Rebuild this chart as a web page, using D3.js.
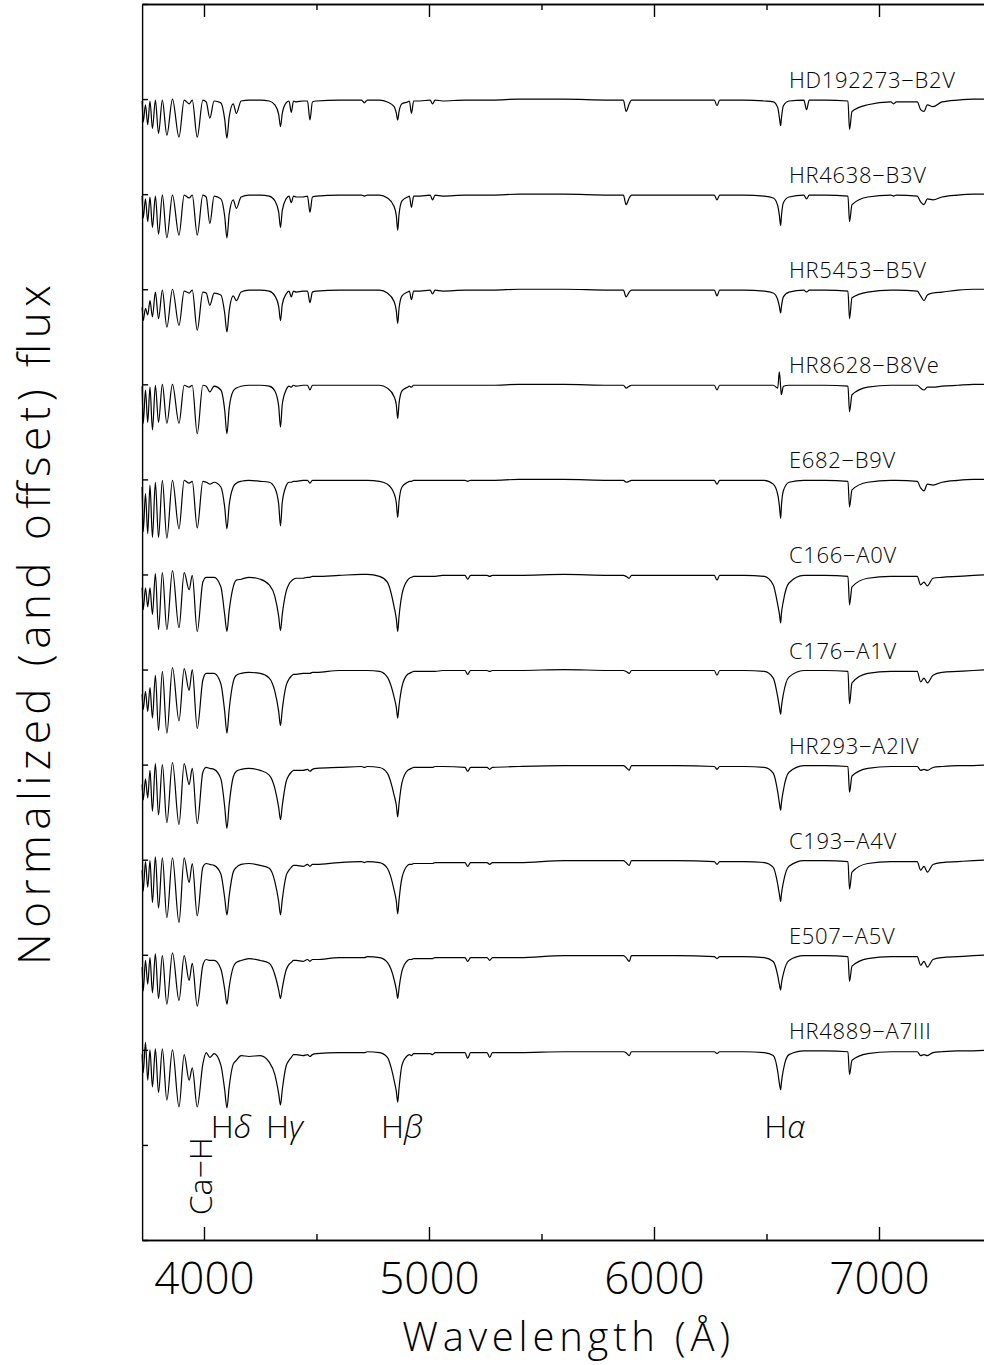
<!DOCTYPE html>
<html>
<head>
<meta charset="utf-8">
<script src="https://cdn.jsdelivr.net/npm/d3@7"></script>
<style>
  body { margin: 0; background: #fff; }
  svg { display: block; }
  text { font-family: "Open Sans", "DejaVu Sans", sans-serif; font-weight: 300; fill: #000; }
</style>
</head>
<body>
<svg id="chart" width="984" height="1365"></svg>
<script>
// wavelength knots (Angstrom) shared by all spectra
const wave = [3725, 3730, 3740, 3750, 3760, 3771, 3784, 3798, 3815, 3835, 3860, 3889, 3912, 3934, 3948, 3970, 3995,
  4010, 4026, 4045, 4075, 4092, 4102, 4112, 4130, 4144, 4165, 4200, 4250,
  4290, 4315, 4332, 4340, 4348, 4365, 4378, 4388, 4398, 4410, 4440, 4460, 4471, 4482, 4500, 4600, 4700, 4713, 4726, 4780,
  4815, 4845, 4855, 4861, 4867, 4880, 4905, 4913, 4922, 4932, 4960, 5005, 5016, 5027, 5060, 5160, 5172, 5185, 5258, 5270, 5282,
  5400, 5600, 5800, 5864, 5876, 5890, 5900, 6100, 6268, 6280, 6292, 6400, 6490,
  6530, 6550, 6557, 6563, 6566, 6575, 6600, 6666, 6678, 6690, 6760, 6862, 6869, 6880, 6950, 7053, 7065, 7077,
  7170, 7185, 7200, 7215, 7240, 7280, 7350, 7420, 7500];

// normalized flux, one array per star
const fluxHD192273 = [.98,.76,.94,.73,.98,.69,.99,.64,.99,.62,1,.60,.99,.95,.99,.60,.99,
  .97,.80,.98,.96,.79,.59,.81,.95,.85,.98,.99,.99,
  .98,.94,.84,.71,.85,.96,.98,.86,.98,.97,.98,.98,.78,.97,.98,.99,.99,.96,.99,.99,
  .97,.92,.85,.78,.87,.95,.97,.98,.85,.98,.98,.99,.95,.99,.98,.99,.99,.99,.99,.99,.99,
  1,1,.99,.99,.87,.95,.99,.99,.99,.93,.99,.99,.98,
  .97,.91,.81,.72,.79,.93,.98,.99,.89,.99,.99,.98,.68,.87,.94,.97,.95,.97,
  .97,.89,.87,.94,.92,.97,.99,1,1];
const fluxHR4638 = [.98,.75,.95,.71,.97,.65,.98,.58,.99,.54,.99,.57,.99,.96,.99,.57,.99,
  .97,.69,.98,.95,.77,.54,.79,.94,.85,.97,.99,.99,
  .98,.93,.81,.65,.83,.95,.98,.91,.98,.97,.97,.98,.81,.97,.98,.99,.99,.98,.99,.99,
  .96,.87,.77,.62,.79,.93,.97,.98,.86,.98,.98,.99,.94,.99,.98,.99,.99,.99,.99,.99,.99,
  1,1,.99,.99,.89,.96,.99,.99,.99,.94,.99,.99,.98,
  .96,.88,.78,.67,.76,.91,.97,.99,.95,.99,.99,.98,.71,.89,.97,.99,.98,.99,
  .98,.92,.89,.95,.94,.97,.99,1,1];
const fluxHR5453 = [.81,.67,.80,.73,.88,.71,.97,.69,.99,.60,1,.62,.98,.96,.99,.57,.97,
  .96,.83,.96,.94,.75,.55,.77,.93,.88,.97,.99,.99,
  .98,.93,.82,.67,.84,.95,.98,.92,.98,.97,.98,.98,.86,.97,.98,.99,.99,.99,.99,.99,
  .96,.87,.77,.64,.80,.93,.97,.98,.89,.98,.98,.99,.95,.99,.98,.99,.99,.99,.99,.99,.99,
  1,1,.99,.99,.92,.97,.99,.99,.99,.93,.99,.99,.98,
  .96,.89,.82,.75,.81,.92,.97,.99,.97,.99,.99,.98,.69,.91,.97,.99,.99,.99,
  .98,.93,.88,.94,.96,.97,.99,1,1];
const fluxHR8628 = [.98,.59,.94,.60,.97,.52,.99,.60,1,.59,1,.59,.99,.97,.99,.48,.99,
  .98,.92,.98,.94,.73,.48,.75,.93,.96,.98,.99,.99,
  .98,.93,.77,.55,.79,.94,.98,.97,.99,.98,.99,.99,.94,.99,.99,.99,.99,.99,.99,.99,
  .96,.87,.78,.64,.80,.93,.97,.98,.97,.99,.99,.99,.99,.99,.99,.99,.99,.99,.99,.99,.99,
  1,1,.99,.99,.96,.98,.99,.99,.99,.94,.99,.99,.99,
  .99,.96,1.13,.97,.89,.98,.99,.99,.99,.99,.99,.98,.71,.89,.97,.99,.99,.99,
  .99,.96,.94,.97,.97,.98,.99,1,1];
const fluxE682 = [.92,.45,.85,.43,.94,.39,.97,.39,.99,.38,.99,.48,.99,.96,.98,.49,.98,
  .97,.95,.97,.92,.71,.48,.73,.92,.96,.98,.99,.98,
  .97,.91,.74,.51,.76,.93,.97,.97,.98,.98,.99,.99,.96,.99,.99,.99,.99,.99,.99,.98,
  .95,.85,.75,.60,.77,.92,.97,.98,.98,.99,.99,.99,.99,.99,.99,.99,.98,.99,.99,.99,.99,
  1,1,.99,.99,.97,.98,.99,.99,.99,.95,.99,.99,.99,
  .95,.84,.73,.59,.71,.88,.97,.99,.99,.99,.99,.98,.71,.89,.97,.99,.99,.99,
  .98,.91,.88,.95,.94,.97,.99,1,1];
const fluxC166 = [.86,.63,.86,.66,.86,.58,1.01,.42,1.02,.42,1.04,.44,1.02,.84,.99,.40,.92,
  .97,.97,.97,.87,.58,.40,.62,.87,.94,.95,.97,.95,
  .89,.77,.56,.41,.58,.82,.90,.93,.95,.96,.96,.97,.97,.98,.98,.99,1,1,1,.98,
  .92,.66,.53,.40,.56,.79,.94,.96,.97,.98,.98,.98,.98,.98,.99,.99,.95,.99,.99,.98,.99,
  .99,1,.99,.99,.98,.96,.99,.99,.99,.94,.99,.99,.98,
  .89,.68,.59,.49,.58,.72,.91,.99,.99,.99,.99,.98,.68,.87,.96,.98,.98,.98,
  .98,.89,.92,.88,.96,.97,.98,.99,1];
const fluxC176 = [.74,.58,.77,.56,.81,.49,.94,.36,.98,.33,1.02,.46,1.01,.78,1,.38,.89,
  .96,.96,.96,.85,.56,.33,.58,.87,.94,.96,.97,.96,
  .91,.77,.56,.41,.58,.83,.90,.93,.95,.95,.96,.96,.96,.97,.97,.99,.99,.99,.99,.98,
  .92,.71,.60,.49,.62,.82,.95,.96,.97,.98,.98,.98,.98,.98,.99,.99,.95,.99,.99,.98,.99,
  .99,1,.99,.99,.98,.96,.99,.99,.99,.94,.99,.99,.98,
  .91,.71,.61,.53,.60,.74,.92,.99,.99,.99,.99,.98,.64,.86,.96,.98,.98,.98,
  .98,.87,.91,.86,.94,.97,.98,.99,1];
const fluxHR293 = [.79,.63,.85,.65,.94,.51,1.01,.47,1,.39,1.02,.37,1.01,.79,.96,.38,.92,
  .97,.96,.95,.85,.56,.33,.58,.87,.93,.95,.96,.94,
  .89,.75,.55,.42,.57,.82,.89,.92,.94,.94,.94,.95,.93,.95,.96,.97,.98,.97,.98,.97,
  .91,.68,.57,.45,.59,.81,.94,.95,.96,.97,.97,.97,.97,.98,.98,.97,.93,.97,.97,.95,.97,
  .98,.99,.99,.99,.97,.94,.99,.99,.98,.95,.98,.98,.97,
  .91,.71,.60,.52,.59,.73,.92,.99,.99,.99,.99,.98,.71,.88,.96,.98,.98,.98,
  .98,.94,.95,.94,.97,.98,.99,.99,1];
const fluxC193 = [.89,.67,.98,.71,.99,.55,1.03,.49,1.02,.39,1.02,.34,1.02,.76,.96,.41,.92,
  .96,.95,.94,.85,.60,.42,.62,.87,.92,.95,.96,.94,
  .91,.77,.56,.42,.58,.83,.89,.92,.94,.94,.93,.95,.93,.95,.95,.97,.98,.97,.98,.97,
  .91,.68,.56,.43,.58,.81,.94,.95,.95,.96,.96,.96,.96,.97,.97,.97,.93,.97,.97,.95,.97,
  .97,.99,.99,.99,.97,.94,.99,.99,.98,.95,.98,.98,.97,
  .92,.74,.64,.56,.63,.76,.93,.99,.99,.99,.99,.98,.69,.87,.96,.98,.98,.98,
  .98,.89,.93,.87,.95,.97,.98,.99,1];
const fluxE507 = [.87,.62,.94,.69,.97,.60,1.01,.54,.99,.48,1.02,.52,.99,.73,.91,.46,.89,
  .95,.94,.94,.85,.64,.48,.66,.87,.92,.94,.96,.94,
  .91,.79,.63,.54,.65,.84,.90,.92,.94,.94,.93,.95,.93,.95,.95,.97,.97,.97,.98,.97,
  .92,.74,.63,.54,.65,.83,.94,.95,.95,.96,.96,.96,.96,.97,.97,.97,.93,.97,.97,.94,.97,
  .97,.99,.99,.99,.97,.93,.99,.99,.98,.96,.98,.98,.97,
  .93,.78,.69,.63,.69,.80,.94,.99,.99,.99,.99,.98,.72,.88,.96,.98,.98,.98,
  .98,.89,.93,.87,.95,.97,.98,.99,1];
const fluxHR4889 = [.95,.76,1.08,.68,1,.61,1.01,.55,1.01,.47,1,.40,.95,.68,.81,.40,.85,
  .97,.92,.96,.84,.58,.39,.61,.85,.89,.94,.93,.94,
  .87,.74,.54,.42,.58,.83,.89,.92,.95,.95,.94,.95,.93,.95,.96,.97,.97,.97,.98,.97,
  .92,.68,.56,.45,.60,.84,.94,.95,.94,.96,.96,.96,.95,.97,.97,.97,.91,.97,.97,.92,.97,
  .97,.98,.98,.98,.97,.94,.98,.98,.98,.96,.98,.98,.97,
  .94,.77,.65,.58,.65,.79,.95,.99,.99,.99,.99,.98,.74,.89,.96,.98,.98,.98,
  .98,.94,.95,.94,.97,.98,.99,.99,1];

const starNames = ["HD192273\u2212B2V", "HR4638\u2212B3V", "HR5453\u2212B5V", "HR8628\u2212B8Ve", "E682\u2212B9V",
  "C166\u2212A0V", "C176\u2212A1V", "HR293\u2212A2IV", "C193\u2212A4V", "E507\u2212A5V", "HR4889\u2212A7III"];
const starFlux = [fluxHD192273, fluxHR4638, fluxHR5453, fluxHR8628, fluxE682,
  fluxC166, fluxC176, fluxHR293, fluxC193, fluxE507, fluxHR4889];
const offsets = [11, 10, 9, 8, 7, 6, 5, 4, 3, 2, 1];

const lineNames = ["H\u03b4", "H\u03b3", "H\u03b2", "H\u03b1"];
const lineWaves = [4102, 4340, 4861, 6563];
const caHWave = 3968;

const majorTicks = [4000, 5000, 6000, 7000];
const minorTicks = [4500, 5500, 6500, 7500];
const yTicks = d3.range(0, 14);

const svg = d3.select('#chart');
const x = d3.scaleLinear().domain([3725, 7500]).range([142.1, 991.5]);
const y = d3.scaleLinear().domain([0, 13]).range([1240, 4]);

const axisStyle = g => {
  g.selectAll('path, line').attr('stroke', '#000').attr('stroke-width', 1.4);
  g.attr('font-family', null).attr('font-size', null);
};

svg.append('g').attr('transform', `translate(0,${y(0)})`)
  .call(d3.axisBottom(x).tickValues(majorTicks).tickSize(-13).tickSizeOuter(0).tickPadding(23).tickFormat(d3.format('d')))
  .call(axisStyle)
  .selectAll('text').attr('font-size', 44);
svg.append('g').attr('transform', `translate(0,${y(0)})`)
  .call(d3.axisBottom(x).tickValues(minorTicks).tickSize(-6).tickSizeOuter(0).tickFormat(''))
  .call(axisStyle);
svg.append('g').attr('transform', `translate(0,${y(13)})`)
  .call(d3.axisTop(x).tickValues(majorTicks).tickSize(-13).tickSizeOuter(0).tickFormat(''))
  .call(axisStyle);
svg.append('g').attr('transform', `translate(0,${y(13)})`)
  .call(d3.axisTop(x).tickValues(minorTicks).tickSize(-6).tickSizeOuter(0).tickFormat(''))
  .call(axisStyle);
svg.append('g').attr('transform', `translate(${x(3725)},0)`)
  .call(d3.axisLeft(y).tickValues(yTicks).tickSize(-6).tickSizeOuter(0).tickFormat(''))
  .call(axisStyle);

// spectra
const line = d3.line()
  .x(d => x(d[0]))
  .y(d => y(d[1]))
  .curve(d3.curveMonotoneX);

const spectra = svg.append('g');
starFlux.forEach((flux, i) => {
  const pts = wave.map((w, j) => [w, flux[j] + offsets[i]]);
  spectra.append('path')
    .datum(pts)
    .attr('d', line)
    .attr('fill', 'none')
    .attr('stroke', '#000')
    .attr('stroke-width', 1.2)
    .attr('stroke-linejoin', 'round');
  spectra.append('text')
    .attr('x', x(6600))
    .attr('y', y(offsets[i] + 1) - 11)
    .attr('font-size', 22)
    .attr('letter-spacing', 0.7)
    .text(starNames[i]);
});

// line identifications
const ids = svg.selectAll('.lineid')
  .data(lineNames)
  .enter()
  .append('text')
  .attr('class', 'lineid')
  .attr('x', (d, i) => x(lineWaves[i]) + 4)
  .attr('y', y(1) - 7)
  .attr('text-anchor', 'middle')
  .attr('font-size', 32);
ids.append('tspan').text(d => d.slice(0, 1));
ids.append('tspan').attr('font-style', 'italic').text(d => d.slice(1));

svg.append('text')
  .attr('transform', `translate(${x(caHWave) + 15},${y(0.67)}) rotate(-90)`)
  .attr('text-anchor', 'middle')
  .attr('font-size', 32)
  .text('Ca\u2212H');

// axis titles
svg.append('text')
  .attr('x', x(5610))
  .attr('y', 1351)
  .attr('text-anchor', 'middle')
  .attr('font-size', 40)
  .attr('textLength', 328)
  .attr('lengthAdjust', 'spacing')
  .text('Wavelength (\u00c5)');

svg.append('text')
  .attr('transform', 'translate(50,625) rotate(-90)')
  .attr('text-anchor', 'middle')
  .attr('font-size', 44)
  .attr('textLength', 680)
  .attr('lengthAdjust', 'spacing')
  .text('Normalized (and offset) flux');
</script>
</body>
</html>
